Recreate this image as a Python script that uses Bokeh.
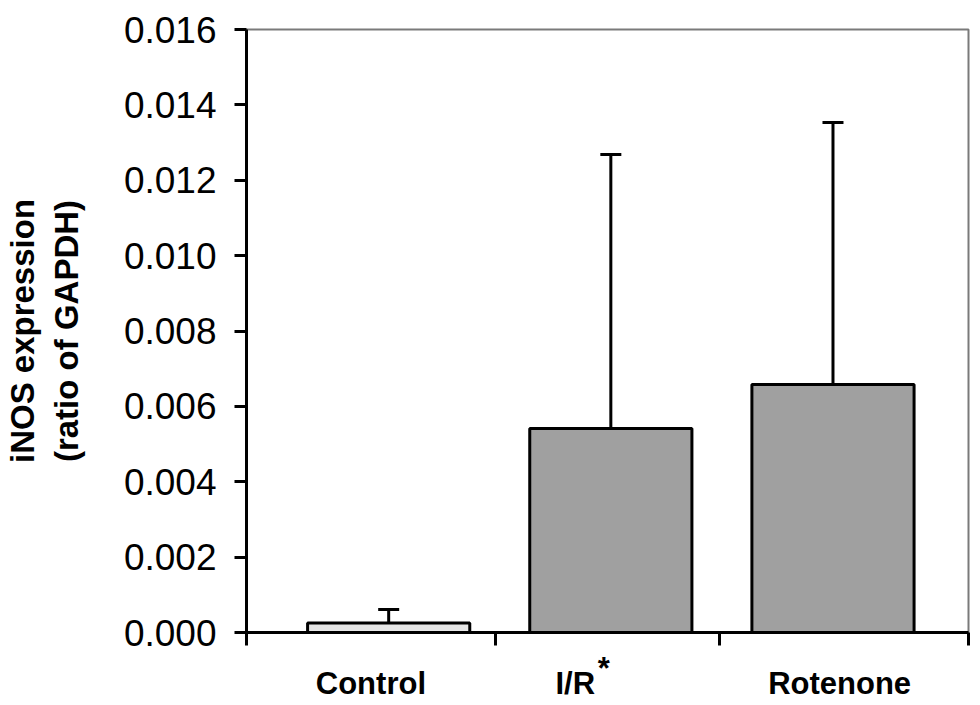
from bokeh.plotting import figure
from bokeh.models import (FixedTicker, PrintfTickFormatter, Range1d, Whisker,
                          ColumnDataSource, TeeHead, LinearAxis)
from bokeh.embed import file_html
from bokeh.resources import INLINE

# ---- data ----
groups = ["Control", "I/R", "Rotenone"]
means = [0.00025, 0.00541, 0.00658]
sd = [0.00036, 0.00727, 0.00695]
fills = ["#e6e6e6", "#a0a0a0", "#a0a0a0"]
y_ticks = [0.000, 0.002, 0.004, 0.006, 0.008, 0.010, 0.012, 0.014, 0.016]

bar_x = [1, 2, 3]
label_x = [0.92, 1.84, 3.03]
star_x = [1.968]
bound_x = [0.3605, 1.48, 2.49, 3.6095]

src = ColumnDataSource(dict(
    x=bar_x, top=means, upper=[m + s for m, s in zip(means, sd)], fill=fills))

p = figure(width=980, height=705, output_backend="svg", toolbar_location=None,
           x_range=Range1d(0.36, 3.61), y_range=Range1d(0, 0.016),
           min_border_left=243, min_border_right=12, min_border_top=29,
           min_border_bottom=73)
p.background_fill_color = "white"
p.border_fill_color = "white"
p.outline_line_color = "#7a7a7a"
p.outline_line_width = 2
p.xgrid.visible = False
p.ygrid.visible = False

p.vbar(x="x", top="top", width=0.73, bottom=0, source=src,
       fill_color="fill", line_color="black", line_width=3)

w = Whisker(base="x", lower="top", upper="upper", source=src,
            upper_head=TeeHead(size=21, line_width=3, line_color="black"),
            lower_head=None, line_width=3, line_color="black")
p.add_layout(w)

# y axis
ya = p.yaxis[0]
ya.ticker = FixedTicker(ticks=y_ticks)
ya.formatter = PrintfTickFormatter(format="%.3f")
ya.axis_line_width = 3
ya.axis_line_color = "black"
ya.major_tick_line_width = 3
ya.major_tick_out = 12
ya.major_tick_in = 0
ya.minor_tick_line_color = None
ya.major_label_text_font = "Liberation Sans"
ya.major_label_text_font_size = "37px"
ya.major_label_text_color = "black"
ya.major_label_standoff = 18
ya.axis_label = "iNOS expression\n(ratio of GAPDH)"
ya.axis_label_text_font = "Liberation Sans"
ya.axis_label_text_font_style = "bold"
ya.axis_label_text_font_size = "33px"
ya.axis_label_text_color = "black"
ya.axis_label_standoff = 36

# x axis
xa = p.xaxis[0]
xa.ticker = FixedTicker(ticks=label_x, minor_ticks=bound_x)
xa.major_label_overrides = {label_x[0]: groups[0], label_x[1]: groups[1],
                            label_x[2]: groups[2]}
xa.axis_line_width = 3
xa.axis_line_color = "black"
xa.major_tick_line_color = None
xa.major_tick_out = 0
xa.major_tick_in = 0
xa.minor_tick_line_color = "black"
xa.minor_tick_line_width = 3
xa.minor_tick_out = 13
xa.minor_tick_in = 0
xa.major_label_text_font = "Liberation Sans"
xa.major_label_text_font_style = "bold"
xa.major_label_text_font_size = "31px"
xa.major_label_text_color = "black"
xa.major_label_standoff = 20

# significance mark on I/R, raised like a superscript
sa = LinearAxis(ticker=FixedTicker(ticks=star_x, minor_ticks=[]))
sa.major_label_overrides = {star_x[0]: "*"}
sa.axis_line_color = None
sa.major_tick_line_color = None
sa.minor_tick_line_color = None
sa.major_tick_out = 0
sa.major_tick_in = 0
sa.major_label_text_font = "Liberation Sans"
sa.major_label_text_font_style = "bold"
sa.major_label_text_font_size = "31px"
sa.major_label_text_color = "black"
sa.major_label_standoff = -53
p.add_layout(sa, "below")

open("out.html", "w").write(file_html(p, INLINE))
